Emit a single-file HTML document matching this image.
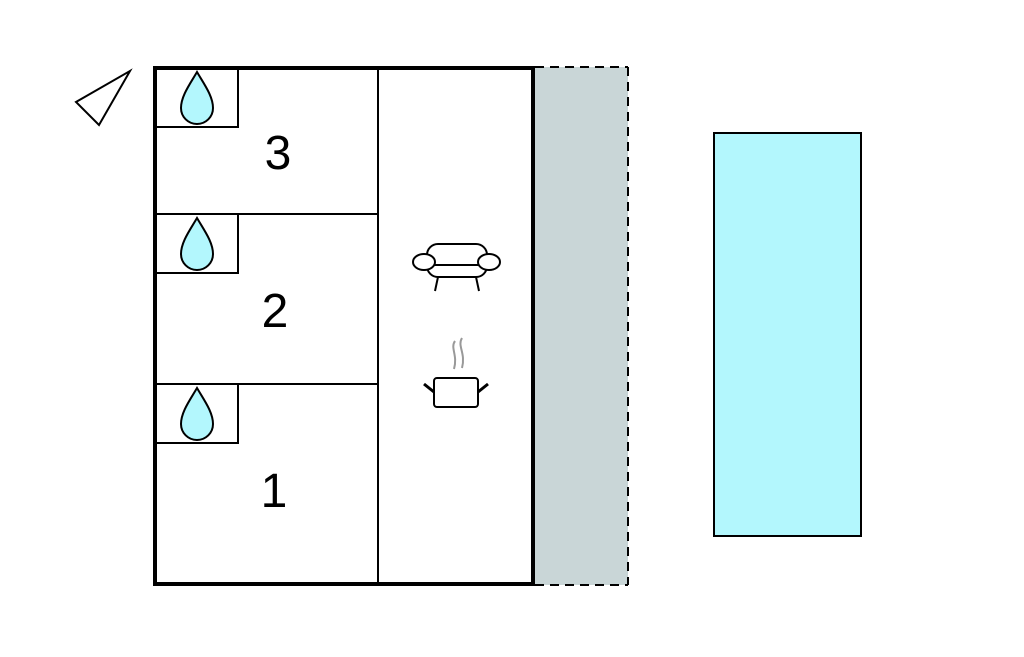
<!DOCTYPE html>
<html><head><style>body{margin:0;background:#fff}</style></head><body>
<svg width="1024" height="652" viewBox="0 0 1024 652" xmlns="http://www.w3.org/2000/svg">
<rect width="1024" height="652" fill="#fff"/>
<polygon points="130,71 76,102 99,125" fill="#fff" stroke="#000" stroke-width="2"/>
<rect x="535" y="67" width="93" height="518" fill="#c9d6d7"/>
<line x1="628" y1="67" x2="628" y2="585" stroke="#000" stroke-width="2" stroke-dasharray="9,6"/>
<line x1="535" y1="67" x2="628" y2="67" stroke="#000" stroke-width="2" stroke-dasharray="9,6"/>
<line x1="535" y1="585" x2="628" y2="585" stroke="#000" stroke-width="2" stroke-dasharray="9,6"/>
<rect x="714" y="133" width="147" height="403" fill="#b3f7fd" stroke="#000" stroke-width="2"/>
<g fill="none" stroke="#000" stroke-width="2">
<line x1="378" y1="67" x2="378" y2="584"/>
<line x1="155" y1="214" x2="378" y2="214"/>
<line x1="155" y1="384" x2="378" y2="384"/>
<polyline points="155,127 238,127 238,67"/>
<polyline points="155,273 238,273 238,214"/>
<polyline points="155,443 238,443 238,384"/>
</g>
<rect x="155" y="68" width="378" height="516" fill="none" stroke="#000" stroke-width="4"/>
<g fill="#b3f7fd" stroke="#000" stroke-width="2">
<path d="M197,72 C190,84 181,96 181,108 A16,16 0 0 0 213,108 C213,96 204,84 197,72Z"/>
<path d="M197,218 C190,230 181,242 181,254 A16,16 0 0 0 213,254 C213,242 204,230 197,218Z"/>
<path d="M197,388 C190,400 181,412 181,424 A16,16 0 0 0 213,424 C213,412 204,400 197,388Z"/>
</g>
<g font-family="Liberation Sans, sans-serif" font-size="48" text-anchor="middle" fill="#000">
<text x="278" y="169">3</text>
<text x="275" y="327">2</text>
<text x="274" y="507">1</text>
</g>
<g fill="#fff" stroke="#000" stroke-width="2">
<rect x="427" y="244" width="60" height="33" rx="11"/>
<line x1="433" y1="265" x2="481" y2="265"/>
<ellipse cx="424" cy="262" rx="11" ry="8"/>
<ellipse cx="489" cy="262" rx="11" ry="8"/>
<line x1="438" y1="277" x2="435" y2="291"/>
<line x1="476" y1="277" x2="479" y2="291"/>
<rect x="434" y="378" width="44" height="29" rx="3"/>
<line x1="424" y1="384" x2="434" y2="392" stroke-width="3"/>
<line x1="488" y1="384" x2="478" y2="392" stroke-width="3"/>
</g>
<g fill="none" stroke="#999" stroke-width="2">
<path d="M455,341 C450,348 458,355 454,369"/>
<path d="M462,338 C457,346 466,353 462,368"/>
</g>
</svg>
</body></html>
